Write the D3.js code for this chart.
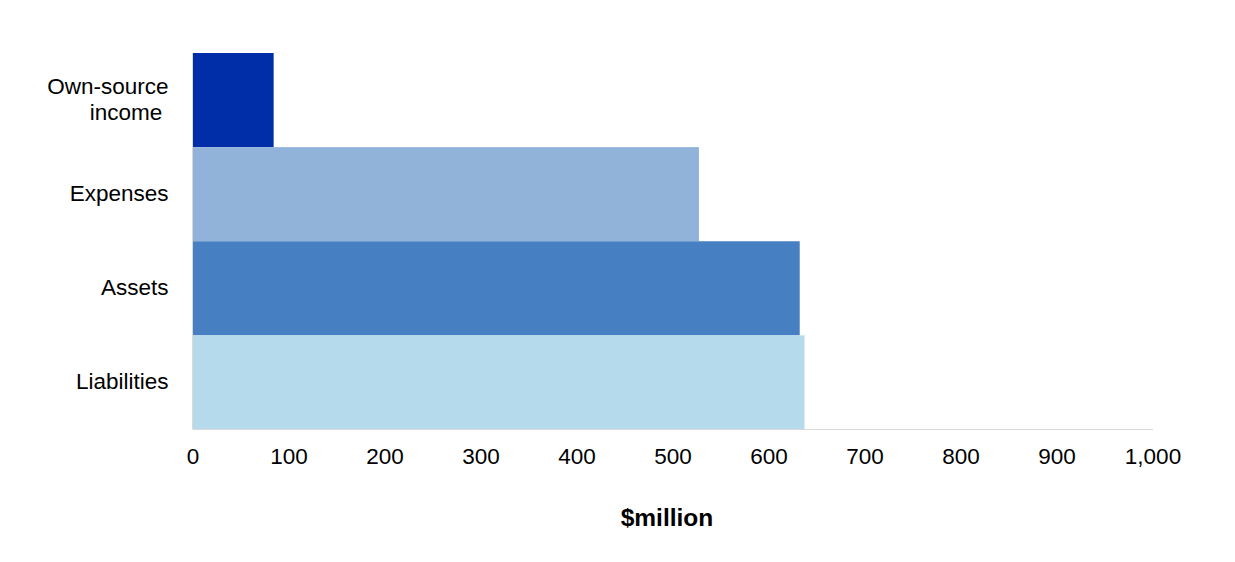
<!DOCTYPE html>
<html><head><meta charset="utf-8">
<script src="https://cdn.jsdelivr.net/npm/d3@7"></script>
<style>body{margin:0;background:#fff}svg{display:block}</style>
</head><body>
<svg id="c" width="1235" height="562"></svg>
<script>
const categories = ["Own-source income", "Expenses", "Assets", "Liabilities"];
const categoryLines = [["Own-source", "income\u00a0"], ["Expenses"], ["Assets"], ["Liabilities"]];
const values = [84, 527, 632, 637];
const colors = ["#002DA8", "#91B3DA", "#4680C2", "#B5DAEC"];
const xTicks = [0, 100, 200, 300, 400, 500, 600, 700, 800, 900, 1000];
const xTitle = "$million";

(function () {
const svg = d3.select("#c");
const mLeft = 193, mRight = 1153, mTop = 53, mBottom = 429.5;
const x = d3.scaleLinear().domain([0, 1000]).range([mLeft, mRight]);
const y = d3.scaleBand().domain(categories).range([mTop, mBottom]).padding(0);

svg.selectAll("rect.bar").data(categories).join("rect")
  .attr("class", "bar")
  .attr("x", x(0)).attr("y", d => y(d))
  .attr("width", (d, i) => x(values[i]) - x(0))
  .attr("height", y.bandwidth())
  .attr("fill", (d, i) => colors[i]);

svg.append("line").attr("x1", mLeft).attr("x2", mRight).attr("y1", mBottom).attr("y2", mBottom)
  .attr("stroke", "#d9d9d9").attr("stroke-width", 1);
svg.append("line").attr("x1", mLeft - 0.5).attr("x2", mLeft - 0.5).attr("y1", mTop).attr("y2", mBottom)
  .attr("stroke", "#d9d9d9").attr("stroke-width", 1);

const font = "'Liberation Sans', Arial, sans-serif";
svg.append("g").selectAll("text").data(xTicks).join("text")
  .attr("x", d => x(d)).attr("y", 464)
  .attr("text-anchor", "middle")
  .attr("font-family", font).attr("font-size", 22.5).attr("fill", "#000")
  .text(d => d3.format(",")(d));

const lab = svg.append("g").selectAll("text").data(categories).join("text")
  .attr("text-anchor", "end")
  .attr("font-family", font).attr("font-size", 22.5).attr("fill", "#000");
lab.each(function (d, i) {
  const lines = categoryLines[i];
  const cy = y(d) + y.bandwidth() / 2;
  const lh = 26;
  lines.forEach((t, j) => {
    d3.select(this).append("tspan")
      .attr("x", 168.5)
      .attr("y", cy + (j - (lines.length - 1) / 2) * lh + 7)
      .text(t);
  });
});

svg.append("text").attr("x", 667).attr("y", 526).attr("text-anchor", "middle")
  .attr("font-family", font).attr("font-size", 24.5).attr("font-weight", "bold")
  .text(xTitle);
})();
</script>
</body></html>
